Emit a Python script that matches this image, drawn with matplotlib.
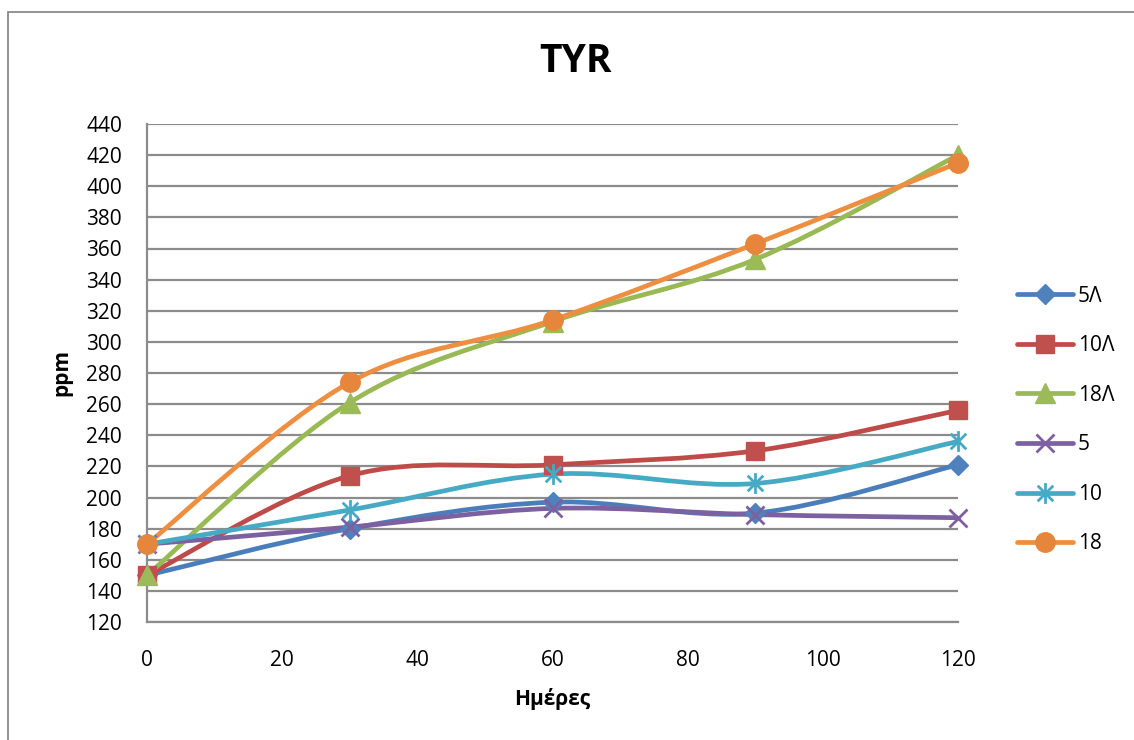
import numpy as np
import matplotlib
matplotlib.use('Agg')
import matplotlib.pyplot as plt
from matplotlib.path import Path
from matplotlib.patches import PathPatch, Rectangle
from matplotlib.lines import Line2D

plt.rcParams['font.family'] = ['Open Sans', 'DejaVu Sans']

# data
days = [0, 30, 60, 90, 120]
labels = ['5Λ', '10Λ', '18Λ', '5', '10', '18']
s_5L = [150, 180, 197, 190, 221]
s_10L = [150, 214, 221, 230, 256]
s_18L = [150, 261, 313, 353, 420]
s_5 = [170, 181, 193, 189, 187]
s_10 = [170, 192, 215, 209, 236]
s_18 = [170, 274, 314, 363, 415]
series = [s_5L, s_10L, s_18L, s_5, s_10, s_18]

colors = ['#4A7EBB', '#BE4B48', '#98B954', '#7D60A0', '#46AAC5', '#EE8E40']
mfc = ['#4F81BD', '#C0504D', '#9BBB59', '#8064A2', '#4BACC6', '#E6863C']

# Excel style star marker: vertical bar plus an X
star = Path([(0, -1), (0, 1), (-0.75, -0.75), (0.75, 0.75), (-0.75, 0.75), (0.75, -0.75)],
            [Path.MOVETO, Path.LINETO, Path.MOVETO, Path.LINETO, Path.MOVETO, Path.LINETO])
markers = ['D', 's', '^', 'x', star, 'o']
msizes = [10, 13, 14, 13, 15, 14]


def smooth_path(x, y):
    # excel-like smoothed line: bezier segments with 1/6 tangents
    pts = np.column_stack([x, y]).astype(float)
    n = len(pts)
    verts = [pts[0]]
    codes = [Path.MOVETO]
    for i in range(n - 1):
        p0 = pts[i - 1] if i > 0 else pts[i]
        p1 = pts[i]
        p2 = pts[i + 1]
        p3 = pts[i + 2] if i + 2 < n else pts[i + 1]
        c1 = p1 + (p2 - p0) / 6.0
        c2 = p2 - (p3 - p1) / 6.0
        verts += [c1, c2, p2]
        codes += [Path.CURVE4] * 3
    return Path(verts, codes)


fig = plt.figure(figsize=(11.34, 7.4), dpi=100)
ax = fig.add_axes([147 / 1134, 1 - 622 / 740, (958 - 147) / 1134, (622 - 124) / 740])

# outer chart border
fig.patches.append(Rectangle((8 / 1134, -0.1), 1.2, 1 - 12 / 740 + 0.1,
                             transform=fig.transFigure, fill=False,
                             edgecolor='#8a8a8a', lw=1.3))

for s, c, fc, m, ms in zip(series, colors, mfc, markers, msizes):
    ax.add_patch(PathPatch(smooth_path(days, s), fill=False, edgecolor=c,
                           lw=3.4, capstyle='round', joinstyle='round', zorder=3))
    is_line = m == 'x' or m is star
    ax.plot(days, s, ls='none', marker=m, ms=ms, color=c, mfc=fc,
            mec=c if is_line else fc, mew=2 if is_line else 1, zorder=4, clip_on=False)

ax.set_xlim(0, 120)
ax.set_ylim(120, 440)
ax.set_xticks(range(0, 121, 20))
ax.set_yticks(range(120, 441, 20))
ax.tick_params(length=0, labelsize=15)
ax.tick_params(axis='x', pad=20)
ax.tick_params(axis='y', pad=18)
ax.grid(axis='y', color='#8c8c8c', lw=1.6)
ax.set_axisbelow(True)
for sp in ['top', 'right']:
    ax.spines[sp].set_visible(False)
for sp in ['left', 'bottom']:
    ax.spines[sp].set_color('#8c8c8c')
    ax.spines[sp].set_linewidth(1.6)

fig.text(576 / 1134, 1 - 62 / 740, 'TYR', fontsize=28, fontweight='bold', ha='center', va='center')
fig.text(552 / 1134, 1 - 699 / 740, 'Ημέρες', fontsize=15, fontweight='bold', ha='center', va='center')
fig.text(62 / 1134, 1 - 373 / 740, 'ppm', fontsize=15, fontweight='bold', ha='center', va='center',
         rotation=90)

handles = []
for c, fc, m, ms in zip(colors, mfc, markers, msizes):
    is_line = m == 'x' or m is star
    handles.append(Line2D([], [], color=c, lw=3.4, marker=m, ms=ms, mfc=fc,
                          mec=c if is_line else fc, mew=2 if is_line else 1,
                          solid_capstyle='round'))
fig.legend(handles, labels, loc='center left', bbox_to_anchor=(1009 / 1134, 1 - 420 / 740),
           frameon=False, fontsize=15, handlelength=2.65, handletextpad=0.25,
           labelspacing=1.37, borderaxespad=0, numpoints=1)

fig.savefig('out.png', dpi=100)
